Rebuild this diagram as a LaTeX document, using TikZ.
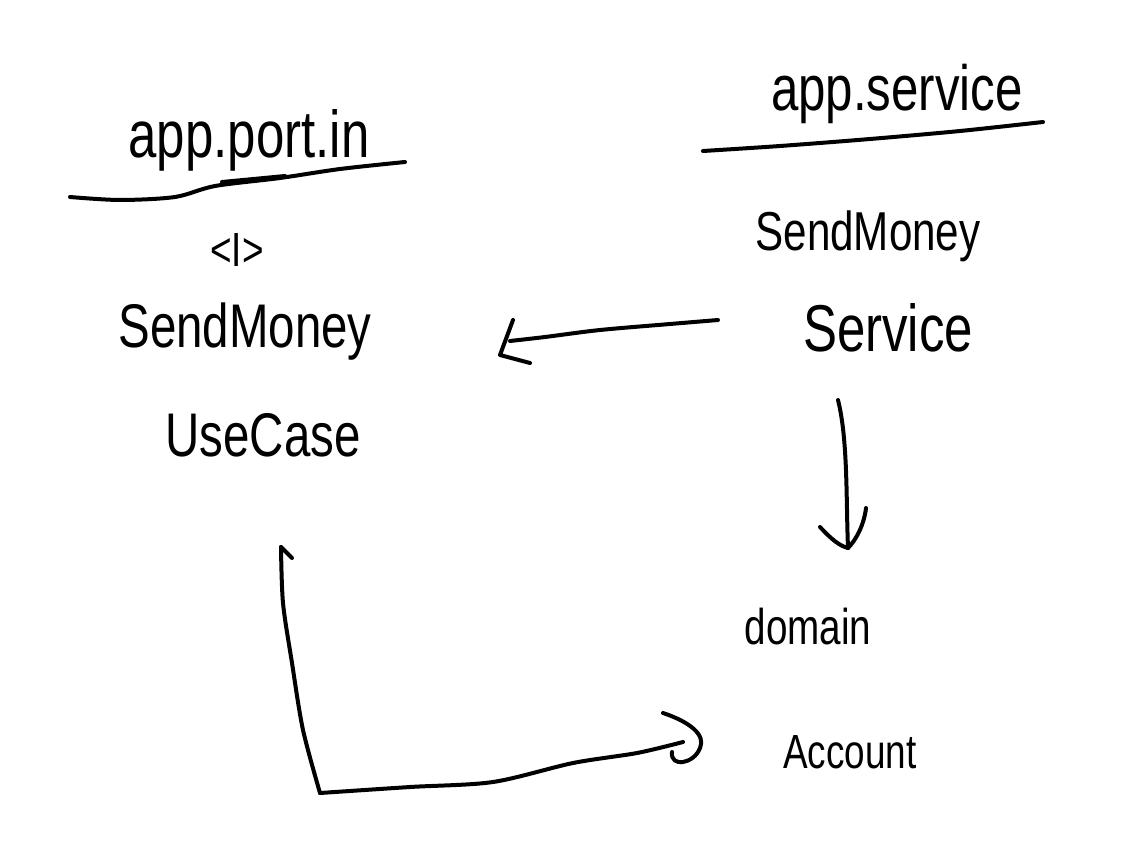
\documentclass[tikz,border=0pt]{standalone}
\usepackage{fontspec}
\setmainfont{Liberation Sans}
\newcommand{\handtext}[1]{\scalebox{1}[1.3]{#1}}
\begin{document}
\begin{tikzpicture}[x=0.02cm,y=-0.02cm,
	pen/.style={line width=0.8mm, line cap=round, line join=round},
	word/.style={inner sep=0pt, font=\fontsize{#1}{#1}\selectfont}]
	\useasboundingbox (0,0) rectangle (1124,858);
	
	% left column
	\node[word=29] (portIn) at (249,140) {\handtext{app.port.in}};
	\draw[pen] plot[smooth] coordinates {(70,197) (120,200) (175,197) (215,186) (280,178) (340,169) (405,162)};
	\draw[pen] (222,182) -- (285,176);
	\node[word=21] (iface) at (237,250) {\handtext{<I>}};
	\node[word=27] (sendUc) at (245,332) {\handtext{SendMoney}};
	\node[word=27] (useCase) at (263,435) {\handtext{UseCase}};
	
	% right column
	\node[word=28] (appService) at (897,94) {\handtext{app.service}};
	\draw[pen] plot[smooth] coordinates {(703,151) (780,146) (870,139) (960,131) (1043,122)};
	\node[word=24] (sendSvc) at (868,236) {\handtext{SendMoney}};
	\node[word=29] (service) at (888,328) {\handtext{Service}};
	\node[word=22] (domain) at (808,627) {\handtext{domain}};
	\node[word=21] (account) at (850,752) {\handtext{Account}};
	
	% connectors
	\coordinate (svcOut) at (718,320);
	\coordinate (ucIn) at (510,341);
	\draw[pen] plot[smooth] coordinates {(svcOut) (670,324) (600,330) (545,337) (ucIn)};
	\draw[pen] ([shift={(3,-21)}]ucIn) -- ([shift={(-10,14)}]ucIn) -- ([shift={(20,22)}]ucIn);
	
	\coordinate (svcDown) at (838,400);
	\coordinate (domUp) at (848,548);
	\draw[pen] (svcDown) .. controls (848,440) and (846,500) .. (domUp);
	\draw[pen] (820,527) .. controls (832,540) and (840,546) .. (domUp);
	\draw[pen] (866,508) .. controls (864,525) and (856,540) .. (domUp);
	
	\coordinate (accOut) at (683,742);
	\coordinate (ucBack) at (281,547);
	\draw[pen] plot[smooth] coordinates {(accOut) (637,753) (573,763) (493,782) (410,787) (320,793)};
	\draw[pen] plot[smooth] coordinates {(320,793) (303,730) (292,663) (283,603) (ucBack)};
	\draw[pen] (ucBack) -- ([shift={(11,11)}]ucBack);
	\draw[pen] (663,713) .. controls (690,722) and (706,735) .. (700,748) .. controls (694,764) and (670,768) .. (672,752);
\end{tikzpicture}
\end{document}
